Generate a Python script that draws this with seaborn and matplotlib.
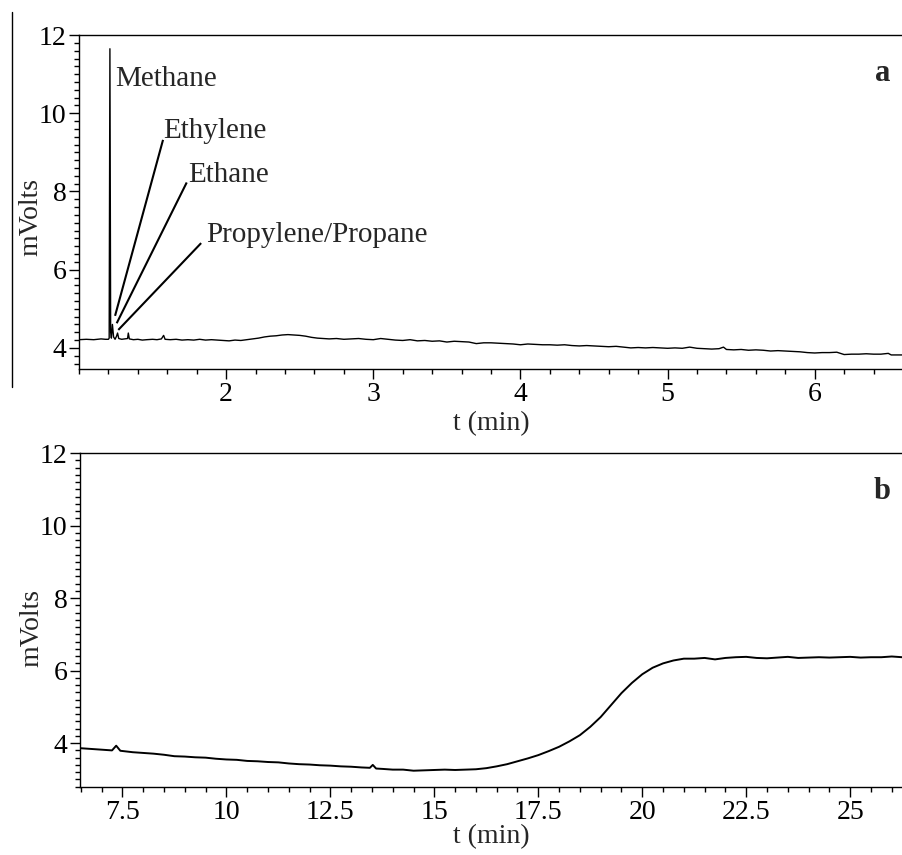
import matplotlib
matplotlib.use("Agg")
import matplotlib.pyplot as plt
from matplotlib.lines import Line2D
from matplotlib.ticker import FixedLocator, MultipleLocator
import seaborn as sns
import pandas as pd

# Panel a: early part of the chromatogram (light hydrocarbons)
t_a = [1.00, 1.05, 1.10, 1.15, 1.18, 1.200, 1.205, 1.210, 1.215, 1.220,
       1.227, 1.235, 1.245, 1.255, 1.262, 1.270, 1.29, 1.31, 1.330, 1.335,
       1.342, 1.37, 1.40, 1.43, 1.46, 1.50, 1.53, 1.56, 1.575, 1.585,
       1.62, 1.66, 1.70, 1.74, 1.78, 1.82, 1.86, 1.90, 1.94, 1.98,
       2.02, 2.06, 2.10, 2.14, 2.18, 2.22, 2.26, 2.30, 2.34, 2.38,
       2.42, 2.46, 2.50, 2.54, 2.58, 2.62, 2.66, 2.70, 2.75, 2.80,
       2.85, 2.90, 2.95, 3.00, 3.05, 3.10, 3.15, 3.20, 3.25, 3.30,
       3.35, 3.40, 3.45, 3.50, 3.55, 3.60, 3.65, 3.70, 3.75, 3.80,
       3.85, 3.90, 3.95, 4.00, 4.05, 4.10, 4.15, 4.20, 4.25, 4.30,
       4.35, 4.40, 4.45, 4.50, 4.55, 4.60, 4.65, 4.70, 4.75, 4.80,
       4.85, 4.90, 4.95, 5.00, 5.05, 5.10, 5.15, 5.20, 5.25, 5.30,
       5.35, 5.38, 5.40, 5.45, 5.50, 5.55, 5.60, 5.65, 5.70, 5.75,
       5.80, 5.85, 5.90, 5.95, 6.00, 6.05, 6.10, 6.15, 6.20, 6.25,
       6.30, 6.35, 6.40, 6.45, 6.50, 6.52, 6.55, 6.60]
mv_a = [4.21, 4.22, 4.21, 4.23, 4.22, 4.22, 4.25, 11.65, 4.40, 4.25,
        4.60, 4.28, 4.22, 4.30, 4.38, 4.24, 4.22, 4.23, 4.24, 4.38,
        4.23, 4.21, 4.22, 4.20, 4.21, 4.22, 4.21, 4.23, 4.32, 4.22,
        4.21, 4.22, 4.20, 4.21, 4.20, 4.22, 4.20, 4.21, 4.20, 4.19,
        4.18, 4.20, 4.19, 4.21, 4.23, 4.25, 4.28, 4.30, 4.31, 4.33,
        4.34, 4.33, 4.32, 4.30, 4.27, 4.25, 4.24, 4.23, 4.24, 4.22,
        4.23, 4.24, 4.22, 4.21, 4.24, 4.22, 4.20, 4.19, 4.21, 4.18,
        4.19, 4.17, 4.18, 4.15, 4.17, 4.16, 4.15, 4.11, 4.13, 4.13,
        4.12, 4.11, 4.10, 4.08, 4.10, 4.09, 4.08, 4.08, 4.07, 4.08,
        4.06, 4.05, 4.06, 4.05, 4.04, 4.03, 4.04, 4.02, 4.00, 4.01,
        4.00, 4.01, 4.00, 3.99, 4.00, 3.99, 4.02, 3.99, 3.98, 3.97,
        3.98, 4.02, 3.96, 3.95, 3.96, 3.94, 3.95, 3.94, 3.92, 3.93,
        3.92, 3.91, 3.90, 3.88, 3.87, 3.88, 3.88, 3.89, 3.83, 3.84,
        3.84, 3.85, 3.84, 3.84, 3.86, 3.82, 3.82, 3.82]

# Panel b: later part of the run
t_b = [6.5, 6.75, 7.0, 7.25, 7.35, 7.45, 7.75, 8.0, 8.25, 8.5,
       8.75, 9.0, 9.25, 9.5, 9.75, 10.0, 10.25, 10.5, 10.75, 11.0,
       11.25, 11.5, 11.75, 12.0, 12.25, 12.5, 12.75, 13.0, 13.25, 13.45,
       13.52, 13.6, 13.75, 14.0, 14.25, 14.5, 14.75, 15.0, 15.25, 15.5,
       15.75, 16.0, 16.25, 16.5, 16.75, 17.0, 17.25, 17.5, 17.75, 18.0,
       18.25, 18.5, 18.75, 19.0, 19.25, 19.5, 19.75, 20.0, 20.25, 20.5,
       20.75, 21.0, 21.25, 21.5, 21.75, 22.0, 22.25, 22.5, 22.75, 23.0,
       23.25, 23.5, 23.75, 24.0, 24.25, 24.5, 24.75, 25.0, 25.25, 25.5,
       25.75, 26.0, 26.25, 26.3]
mv_b = [3.86, 3.84, 3.82, 3.80, 3.93, 3.79, 3.75, 3.73, 3.71, 3.68,
        3.64, 3.63, 3.61, 3.60, 3.57, 3.55, 3.54, 3.51, 3.50, 3.48,
        3.47, 3.44, 3.42, 3.41, 3.39, 3.38, 3.36, 3.35, 3.33, 3.32,
        3.40, 3.30, 3.29, 3.27, 3.27, 3.24, 3.25, 3.26, 3.27, 3.26,
        3.27, 3.28, 3.31, 3.36, 3.42, 3.50, 3.58, 3.67, 3.78, 3.90,
        4.05, 4.22, 4.45, 4.72, 5.05, 5.38, 5.66, 5.90, 6.08, 6.20,
        6.28, 6.33, 6.33, 6.35, 6.31, 6.35, 6.37, 6.38, 6.35, 6.34,
        6.36, 6.38, 6.35, 6.36, 6.37, 6.36, 6.37, 6.38, 6.36, 6.37,
        6.37, 6.39, 6.37, 6.37]

# Peak labels in panel a: name, text anchor (t, mV), leader line end at the peak
peak_names = ["Methane", "Ethylene", "Ethane", "Propylene/Propane"]
label_t = [1.245, 1.575, 1.745, 1.865]
label_mv = [10.70, 9.36, 8.25, 6.72]
leader_top_t = [None, 1.571, 1.732, 1.830]
leader_top_mv = [None, 9.32, 8.23, 6.68]
leader_end_t = [None, 1.245, 1.256, 1.267]
leader_end_mv = [None, 4.82, 4.63, 4.46]

sns.set_style("ticks")
plt.rcParams["font.family"] = ["Liberation Serif", "DejaVu Serif"]

fig = plt.figure(figsize=(9.03, 8.55), dpi=100)
ax_a = fig.add_axes([0.0875, 0.5684, 0.9125, 0.3906])
ax_b = fig.add_axes([0.0886, 0.0795, 0.9114, 0.3906])

df_a = pd.DataFrame({"t": t_a, "mv": mv_a})
df_b = pd.DataFrame({"t": t_b, "mv": mv_b})
sns.lineplot(data=df_a, x="t", y="mv", ax=ax_a, color="black", lw=1.0,
             estimator=None, sort=False)
sns.lineplot(data=df_b, x="t", y="mv", ax=ax_b, color="black", lw=1.4,
             estimator=None, sort=False)


def style_axis(ax, xlim, ylim, xmajor, xminor, xlabel_y, ylabel_y):
    ax.set_xlim(*xlim)
    ax.set_ylim(*ylim)
    ax.xaxis.set_major_locator(FixedLocator(xmajor))
    ax.xaxis.set_minor_locator(MultipleLocator(xminor))
    ax.yaxis.set_major_locator(FixedLocator([4, 6, 8, 10, 12]))
    ax.yaxis.set_minor_locator(MultipleLocator(0.2))
    ax.tick_params(which="major", direction="out", length=7, width=1,
                   labelsize=20, pad=2, color="black", labelcolor="black")
    ax.tick_params(which="minor", direction="out", length=3.5, width=1,
                   color="black")
    for side in ("left", "top", "bottom"):
        ax.spines[side].set_visible(True)
        ax.spines[side].set_color("black")
        ax.spines[side].set_linewidth(1.0)
    ax.spines["right"].set_visible(False)
    ax.set_xlabel("t (min)", fontsize=20)
    ax.set_ylabel("mVolts", fontsize=20)
    ax.xaxis.set_label_coords(0.5, xlabel_y)
    ax.yaxis.set_label_coords(-0.043, ylabel_y)
    ax.grid(False)


style_axis(ax_a, (1.0, 6.6), (3.46, 12.0), [2, 3, 4, 5, 6], 0.2, -0.125, 0.455)
style_axis(ax_b, (6.48, 26.27), (2.79, 12.0), [7.5, 10, 12.5, 15, 17.5, 20, 22.5, 25],
           0.5, -0.11, 0.476)
ax_b.xaxis.set_major_formatter(plt.FuncFormatter(lambda v, p: f"{v:g}"))

ax_a.text(0.975, 0.885, "a", transform=ax_a.transAxes, fontsize=22,
          fontweight="bold", ha="center", va="center")
ax_b.text(0.975, 0.885, "b", transform=ax_b.transAxes, fontsize=22,
          fontweight="bold", ha="center", va="center")

for name, lt, lm, t0, m0, t1, m1 in zip(peak_names, label_t, label_mv,
                                          leader_top_t, leader_top_mv,
                                          leader_end_t, leader_end_mv):
    ax_a.text(lt, lm, name, fontsize=21, ha="left", va="baseline")
    if t0 is not None:
        ax_a.plot([t0, t1], [m0, m1], color="black", lw=1.5,
                  solid_capstyle="butt")

# thin rule at the far left of the upper panel
fig.add_artist(Line2D([12 / 903, 12 / 903], [1 - 12 / 855, 1 - 387 / 855],
                      color="black", lw=1.0))

fig.savefig("out.png", dpi=100)
